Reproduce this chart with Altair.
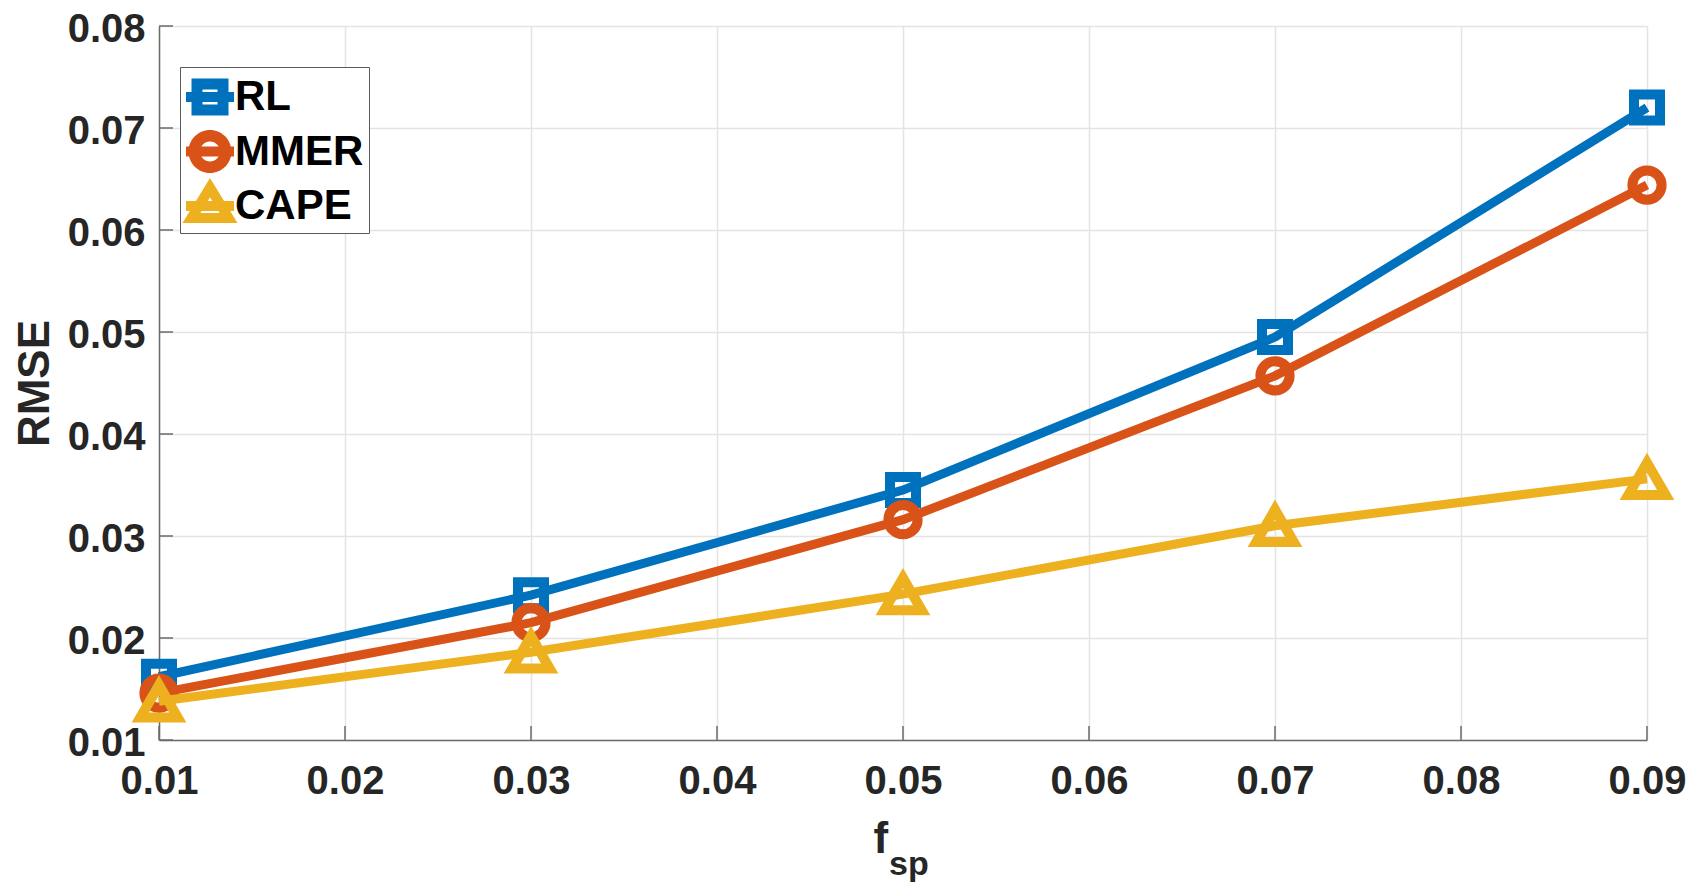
import altair as alt
import pandas as pd

# ---- data ----
f_sp = [0.01, 0.03, 0.05, 0.07, 0.09]
rl = [0.0162, 0.0242, 0.0345, 0.0495, 0.0720]
mmer = [0.0146, 0.0215, 0.0316, 0.0457, 0.0644]
cape = [0.0138, 0.0186, 0.0243, 0.0310, 0.0356]
methods = ["RL", "MMER", "CAPE"]
colors = ["#0072BD", "#D95319", "#EDB120"]
x_ticks = [0.01, 0.02, 0.03, 0.04, 0.05, 0.06, 0.07, 0.08, 0.09]
y_ticks = [0.01, 0.02, 0.03, 0.04, 0.05, 0.06, 0.07, 0.08]

rows = []
for m, vals in zip(methods, [rl, mmer, cape]):
    for xv, v in zip(f_sp, vals):
        rows.append({"method": m, "f": xv, "rmse": v})
df = pd.DataFrame(rows)

FONT = "Liberation Sans"
TXT = "#262626"
AX = "#6b6b6b"
W, H = 1488, 714

xscale = alt.Scale(domain=[0.01, 0.09], nice=False, zero=False)
yscale = alt.Scale(domain=[0.01, 0.08], nice=False, zero=False)

xaxis = alt.Axis(values=x_ticks, format=".2f", title="f", ticks=False, tickSize=0,
                 labelPadding=53, labelBaseline="alphabetic", labelFontSize=40,
                 labelFlush=False, labelOverlap=False,
                 titleX=714, titleY=112, titleAlign="left", titleBaseline="alphabetic",
                 titleAngle=0, titleFontSize=44)
yaxis = alt.Axis(values=y_ticks, format=".2f", title="RMSE", ticks=False, tickSize=0,
                 labelPadding=14, labelFontSize=40, labelOffset=3,
                 labelFlush=False, labelOverlap=False,
                 titleX=-124, titleY=357, titleAlign="center", titleBaseline="middle",
                 titleAngle=270, titleFontSize=44)

X = alt.X("f:Q", scale=xscale, axis=xaxis)
Y = alt.Y("rmse:Q", scale=yscale, axis=yaxis)

shapes = ["square", "circle", "triangle-up"]
sizes = [676, 855, 1400]

layers = []
for m, c, s, sz in zip(methods, colors, shapes, sizes):
    base = alt.Chart(df).transform_filter(alt.datum.method == m)
    layers.append(base.mark_line(color=c, strokeWidth=9).encode(x=X, y=Y))
    layers.append(base.mark_point(shape=s, size=sz, color=c, strokeWidth=10,
                                  filled=False, opacity=1).encode(x=X, y=Y))

# inward tick marks
xt = alt.Chart(pd.DataFrame({"f": x_ticks})).mark_rule(color=AX, strokeWidth=1.5).encode(
    x=X, y=alt.value(H), y2=alt.value(H - 14))
yt = alt.Chart(pd.DataFrame({"rmse": y_ticks})).mark_rule(color=AX, strokeWidth=1.5).encode(
    y=Y, x=alt.value(0), x2=alt.value(14))

# legend symbols: filled outlines (line bar + hollow marker); unit = sqrt(2500)/2 = 25 px
# zero-area sub-paths give every symbol the same vertical extent
BAR = "M0,-1.12H0.004H0ZM0,0.86H0.004H0ZM-0.96,-0.2H0.96V0.2H-0.96Z"
legend_paths = [
    BAR + "M-0.74,-0.74H0.74V0.74H-0.74ZM-0.3,-0.3V0.3H0.3V-0.3Z",
    BAR + "M-0.86,0A0.86,0.86,0,1,1,0.86,0A0.86,0.86,0,1,1,-0.86,0Z"
          "M-0.4,0A0.4,0.4,0,1,0,0.4,0A0.4,0.4,0,1,0,-0.4,0Z",
    BAR + "M0,-1.12L1.1,0.68H-1.1ZM0,-0.348L-0.384,0.28H0.384Z",
]
leg = alt.Legend(title=None, orient="none", legendX=21, legendY=41, padding=5,
                 strokeColor="#5a5a5a", fillColor="white", labelFontSize=42,
                 labelFont=FONT, labelFontWeight="bold", labelColor="black",
                 rowPadding=3.5, labelOffset=0, symbolOffset=0, symbolSize=2500,
                 symbolStrokeWidth=0, symbolOpacity=1)
legend_layer = alt.Chart(df).transform_filter("false").mark_point(
    filled=True, opacity=1).encode(
    x=X, y=Y,
    color=alt.Color("method:N", scale=alt.Scale(domain=methods, range=colors), legend=leg),
    shape=alt.Shape("method:N", scale=alt.Scale(domain=methods, range=legend_paths), legend=leg),
)

sub = alt.Chart(pd.DataFrame({"t": ["sp"]})).mark_text(
    font=FONT, fontSize=34, fontWeight="bold", color=TXT, align="left",
    baseline="alphabetic").encode(text="t:N", x=alt.value(730), y=alt.value(849))

chart = alt.layer(xt, yt, *layers, legend_layer, sub).properties(
    width=W, height=H,
    autosize=alt.AutoSizeParams(type="none"),
    padding={"left": 151, "top": 18, "right": 39, "bottom": 142},
).configure_view(stroke=None).configure_axis(
    labelFont=FONT, labelFontWeight="bold", labelColor=TXT,
    titleFont=FONT, titleFontWeight="bold", titleColor=TXT,
    domainColor=AX, domainWidth=1.5, gridColor="#e4e4e4", gridWidth=1.5,
)

chart.save("out.html", embed_options={"renderer": "svg", "actions": False})
